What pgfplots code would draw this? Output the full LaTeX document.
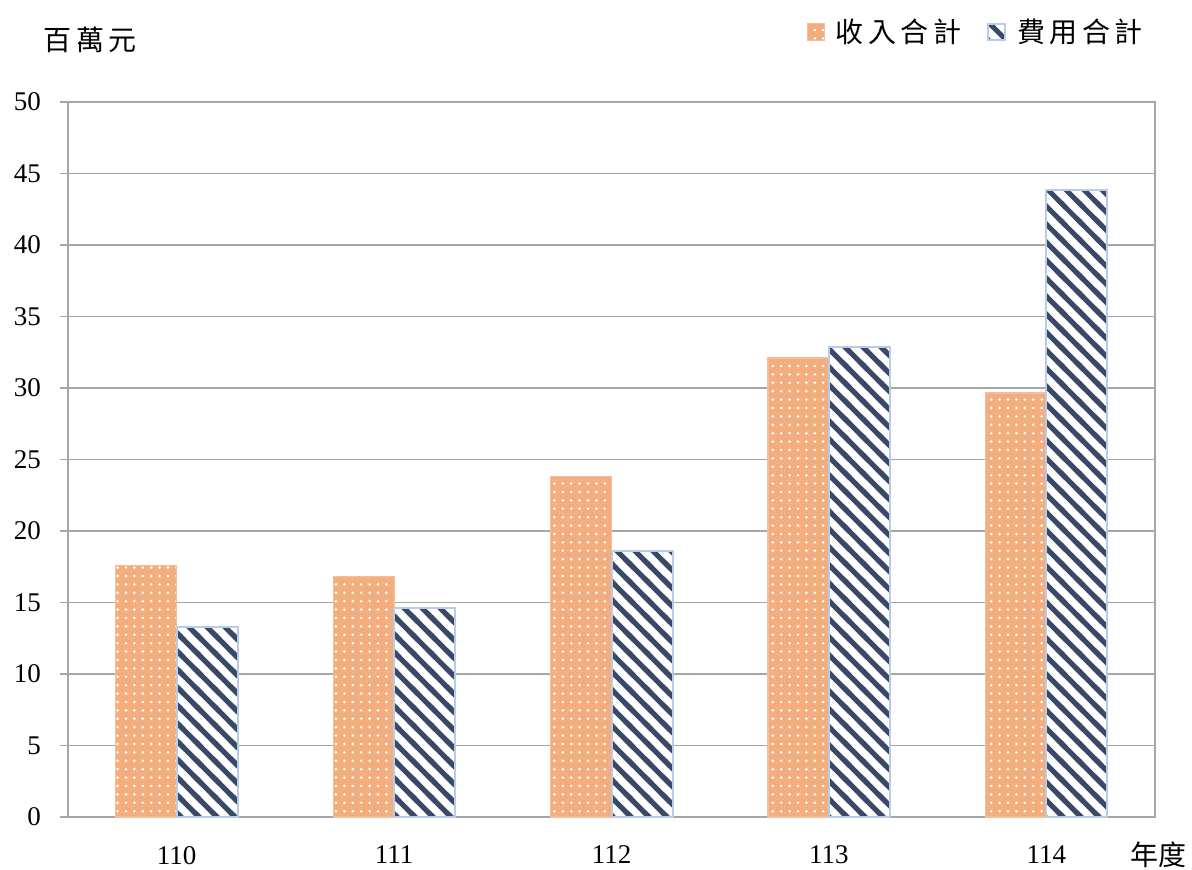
\documentclass[border=0pt]{standalone}
\usepackage{pgfplots}
\pgfplotsset{compat=1.18}
\usepackage{fontspec}
\setmainfont{Liberation Serif}
\newfontfamily\cjk{Noto Sans CJK TC}
\usetikzlibrary{patterns.meta,patterns}
\definecolor{bOrange}{HTML}{F2AE7E}
\definecolor{bNavy}{HTML}{3A4A66}
\definecolor{bEdge}{HTML}{B8CBEA}
\definecolor{gridg}{HTML}{A6A6A6}
\newcommand{\cs}{\hspace{0.16em}}
\pgfdeclarepatternformonly{thickNW}{\pgfqpoint{-1pt}{-1pt}}{\pgfqpoint{10pt}{10pt}}{\pgfqpoint{9pt}{9pt}}{%
  \pgfsetlinewidth{2.5pt}
  \pgfpathmoveto{\pgfqpoint{-3pt}{12pt}}\pgfpathlineto{\pgfqpoint{12pt}{-3pt}}
  \pgfpathmoveto{\pgfqpoint{-3pt}{3pt}}\pgfpathlineto{\pgfqpoint{3pt}{-3pt}}
  \pgfpathmoveto{\pgfqpoint{6pt}{12pt}}\pgfpathlineto{\pgfqpoint{12pt}{6pt}}
  \pgfusepath{stroke}}
\begin{document}
\begin{tikzpicture}
\useasboundingbox (-34pt,-26.5pt) rectangle (562pt,408.5pt);
\begin{axis}[
  scale only axis,
  width=543.5pt, height=357.5pt,
  ymin=0, ymax=50, ytick={0,5,...,50},
  xmin=-0.5, xmax=4.5,
  xtick={0,1,2,3,4},
  xticklabels={110,111,112,113,114},
  major x tick style={draw=none},
  extra x ticks={-0.5,0.5,1.5,2.5,3.5,4.5},
  extra x tick labels={},
  extra x tick style={major tick length=4pt, tick style={draw=gridg, line width=0.7pt}, grid=none},
  ytick style={draw=gridg, line width=0.7pt},
  major tick length=4pt,
  tick align=outside,
  xtick pos=bottom, ytick pos=left,
  ymajorgrids, grid style={draw=gridg, line width=0.7pt},
  axis line style={draw=gridg, line width=0.9pt},
  tick label style={font=\fontsize{13.5}{15}\selectfont},
  /pgf/number format/assume math mode=true,
  xticklabel style={yshift=-7pt},
  yticklabel style={xshift=-6pt},
  ybar=0pt, bar width=30.5pt,
  clip=false,
  legend columns=2,
  legend style={at={(rel axis cs:0.836,1.098)}, anchor=center, draw=none, fill=none,
    font=\fontsize{14}{16}\selectfont\cjk, column sep=3.5pt,
    /tikz/every even column/.append style={column sep=11pt}},
  legend image code/.code={\draw[#1] (0pt,-4.2pt) rectangle (8.4pt,4.2pt);},
]
\addplot[fill=bOrange, draw=bOrange!80!white, line width=0.6pt,
  postaction={pattern={Dots[distance=4.2pt, radius=0.7pt]}, pattern color=white}]
  coordinates {(0,17.6) (1,16.8) (2,23.8) (3,32.1) (4,29.65)};
\addlegendentry{收\cs 入\cs 合\cs 計}
\addplot[fill=white, draw=bEdge, line width=1pt,
  postaction={pattern=thickNW, pattern color=bNavy}]
  coordinates {(0,13.3) (1,14.6) (2,18.6) (3,32.9) (4,43.85)};
\addlegendentry{費\cs 用\cs 合\cs 計}
\node[font=\fontsize{14}{16}\selectfont\cjk] at (rel axis cs:0.0205,1.087) {百\cs 萬\cs 元};
\node[font=\fontsize{14}{16}\selectfont\cjk] at (rel axis cs:1.003,-0.053) {年度};
\end{axis}
\end{tikzpicture}
\end{document}
